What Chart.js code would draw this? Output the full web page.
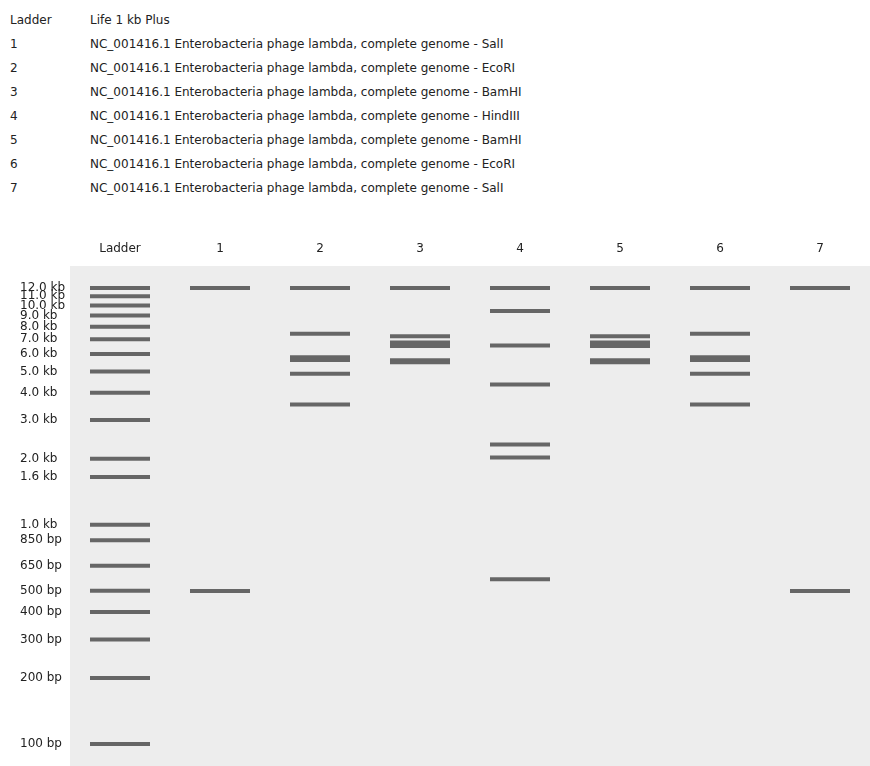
<!DOCTYPE html>
<html>
<head>
<meta charset="utf-8">
<script src="https://cdn.jsdelivr.net/npm/chart.js@4.4.1/dist/chart.umd.min.js"></script>
<style>
  html, body { margin: 0; overflow: hidden; background: #fff; font-family: "DejaVu Sans", sans-serif; color: #222; }
  #legend { position: absolute; left: 0; top: 8px; font-size: 12px; }
  .row { height: 24px; line-height: 24px; position: relative; }
  .row .id { position: absolute; left: 10px; }
  .row .desc { position: absolute; left: 90px; white-space: nowrap; }
  #gel { position: absolute; left: 0; top: 220px; display: block; }
</style>
</head>
<body>
<div id="legend"></div>
<canvas id="gel" width="870" height="546"></canvas>
<script>
// lanes and descriptions
const laneNames = ['Ladder', '1', '2', '3', '4', '5', '6', '7'];
const laneDescriptions = [
    'Life 1 kb Plus',
    'NC_001416.1 Enterobacteria phage lambda, complete genome - SalI',
    'NC_001416.1 Enterobacteria phage lambda, complete genome - EcoRI',
    'NC_001416.1 Enterobacteria phage lambda, complete genome - BamHI',
    'NC_001416.1 Enterobacteria phage lambda, complete genome - HindIII',
    'NC_001416.1 Enterobacteria phage lambda, complete genome - BamHI',
    'NC_001416.1 Enterobacteria phage lambda, complete genome - EcoRI',
    'NC_001416.1 Enterobacteria phage lambda, complete genome - SalI'
];

// band sizes in bp (large fragments sit at the 12 kb position)
const ladderSizes = [12000, 11000, 10000, 9000, 8000, 7000, 6000, 5000, 4000, 3000, 2000, 1650, 1000, 850, 650, 500, 400, 300, 200, 100];
const ladderLabels = ['12.0 kb', '11.0 kb', '10.0 kb', '9.0 kb', '8.0 kb', '7.0 kb', '6.0 kb', '5.0 kb', '4.0 kb', '3.0 kb', '2.0 kb', '1.6 kb', '1.0 kb', '850 bp', '650 bp', '500 bp', '400 bp', '300 bp', '200 bp', '100 bp'];
const lane1 = [12000, 12000, 499];
const lane2 = [12000, 7421, 5804, 5643, 4878, 3530];
const lane3 = [12000, 7233, 6770, 6527, 5626, 5505];
const lane4 = [12000, 9416, 6557, 4361, 2322, 2027, 564];
const lane5 = [12000, 7233, 6770, 6527, 5626, 5505];
const lane6 = [12000, 7421, 5804, 5643, 4878, 3530];
const lane7 = [12000, 12000, 499];

const lanes = [ladderSizes, lane1, lane2, lane3, lane4, lane5, lane6, lane7];

// header list
const legend = document.getElementById('legend');
laneNames.forEach((name, i) => {
    const row = document.createElement('div');
    row.className = 'row';
    row.innerHTML = '<span class="id"></span><span class="desc"></span>';
    row.querySelector('.id').textContent = name;
    row.querySelector('.desc').textContent = laneDescriptions[i];
    legend.appendChild(row);
});

const gelBackground = {
    id: 'gelBackground',
    beforeDatasetsDraw(chart) {
        const { ctx, chartArea } = chart;
        ctx.save();
        ctx.fillStyle = '#ededed';
        ctx.fillRect(chartArea.left, chartArea.top, chartArea.right - chartArea.left, chartArea.bottom - chartArea.top);
        ctx.restore();
    }
};

const datasets = lanes.map((sizes, i) => ({
    label: laneNames[i],
    data: sizes.map(s => ({ x: laneNames[i], y: s })),
    showLine: false,
    pointStyle: 'line',
    pointRadius: 30,
    pointHoverRadius: 30,
    pointBorderWidth: 4,
    pointBorderColor: '#666666',
    pointBackgroundColor: '#666666'
}));

new Chart(document.getElementById('gel'), {
    type: 'line',
    data: { labels: laneNames, datasets: datasets },
    plugins: [gelBackground],
    options: {
        responsive: false,
        animation: false,
        events: [],
        layout: { autoPadding: false, padding: { left: 20, right: 0, top: 0, bottom: 0 } },
        plugins: {
            legend: { display: false },
            tooltip: { enabled: false }
        },
        scales: {
            x: {
                type: 'category',
                position: 'top',
                offset: true,
                grid: { display: false, drawTicks: false },
                border: { display: false },
                ticks: { color: '#222', font: { family: 'DejaVu Sans', size: 12 }, padding: 10, maxRotation: 0 },
                afterFit(scale) {
                    scale.height = 46;
                    scale.paddingLeft = 0;
                    scale.paddingRight = 0;
                }
            },
            y: {
                type: 'logarithmic',
                min: 79.4,
                max: 15120,
                grid: { display: false, drawTicks: false },
                border: { display: false },
                ticks: {
                    color: '#222',
                    font: { family: 'DejaVu Sans', size: 12 },
                    crossAlign: 'far',
                    autoSkip: false,
                    callback(value) {
                        const idx = ladderSizes.indexOf(value);
                        return idx >= 0 ? ladderLabels[idx] : '';
                    }
                },
                afterBuildTicks(scale) {
                    scale.ticks = ladderSizes.slice().reverse().map(v => ({ value: v }));
                },
                afterFit(scale) {
                    scale.width = 50;
                    scale.paddingTop = 0;
                    scale.paddingBottom = 0;
                }
            }
        }
    }
});
</script>
</body>
</html>
